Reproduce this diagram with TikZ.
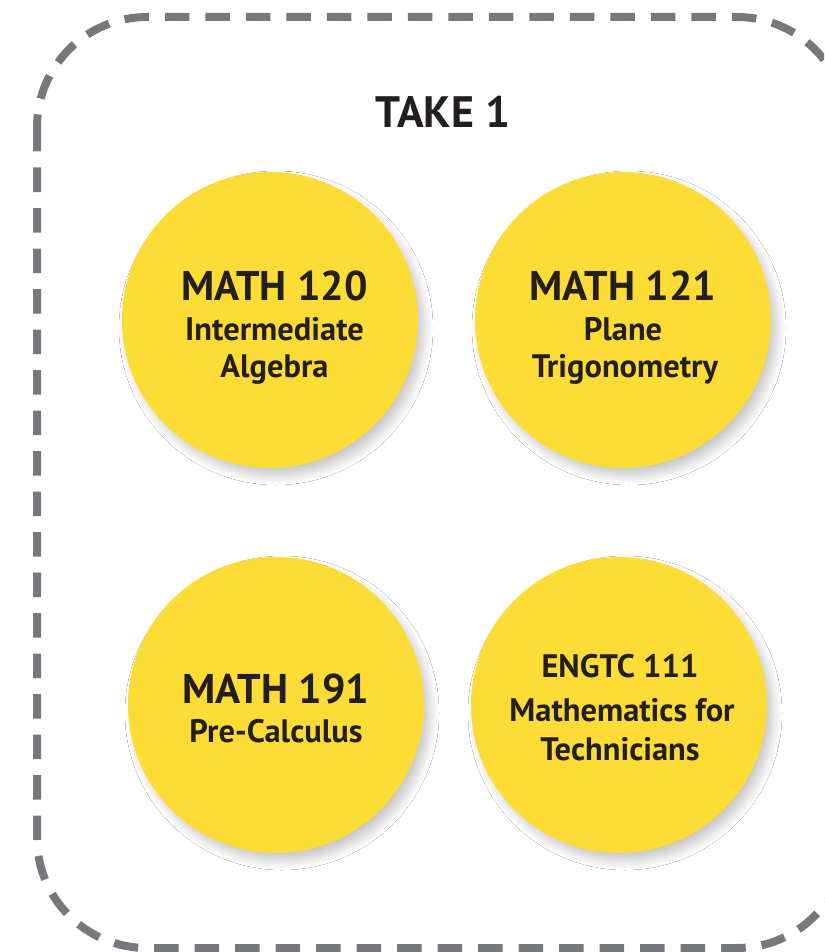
\documentclass[tikz,border=0pt]{standalone}
\usepackage{fontspec}
\setmainfont{PT Sans}
\usetikzlibrary{shadows.blur}
\definecolor{dashgray}{HTML}{77787B}
\definecolor{disc}{HTML}{FDDC35}
\definecolor{ink}{HTML}{231F20}
\tikzset{
  frame/.style={draw=dashgray, line width=8pt, rounded corners=110pt, dash pattern=on 24.5pt off 16pt},
  course/.style={circle, fill=disc, minimum size=296pt, inner sep=0pt,
    blur shadow={shadow xshift=6pt, shadow yshift=-8pt, shadow blur steps=14, shadow opacity=22, shadow blur radius=9pt}},
  codetxt/.style={anchor=base, text=ink, font=\bfseries\fontsize{41.5}{41.5}\selectfont, inner sep=0pt},
  nametxt/.style={anchor=base, text=ink, font=\bfseries\fontsize{32.5}{32.5}\selectfont, inner sep=0pt},
  titletxt/.style={anchor=base, text=ink, font=\bfseries\fontsize{44}{44}\selectfont, inner sep=0pt}
}
\begin{document}
\begin{tikzpicture}[x=1pt, y=-1pt]
\useasboundingbox (0,0) rectangle (824,952);
\clip (0,0) rectangle (824,952);
\fill[white] (0,0) rectangle (824,952);
\draw[frame] (37,17) rectangle (847,948);
\node[titletxt] (title) at (443,128) {TAKE 1};
\node[course] (c1) at (270,320) {};
\node[course] (c2) at (623,320) {};
\node[course] (c3) at (276,705) {};
\node[course] (c4) at (619,705) {};
\node[codetxt] (c1a) at (274.5,300) {MATH 120};
\node[nametxt] (c1b) at (274.5,340) {Intermediate};
\node[nametxt] (c1c) at (274.5,377) {Algebra};
\node[codetxt] (c2a) at (623,300) {MATH 121};
\node[nametxt] (c2b) at (623,340) {Plane};
\node[nametxt] (c2c) at (625,377) {Trigonometry};
\node[codetxt] (c3a) at (276,703) {MATH 191};
\node[nametxt] (c3b) at (276,742) {Pre-Calculus};
\node[nametxt] (c4a) at (620,677) {ENGTC 111};
\node[nametxt] (c4b) at (622,721) {Mathematics for};
\node[nametxt] (c4c) at (620,760) {Technicians};
\end{tikzpicture}
\end{document}
